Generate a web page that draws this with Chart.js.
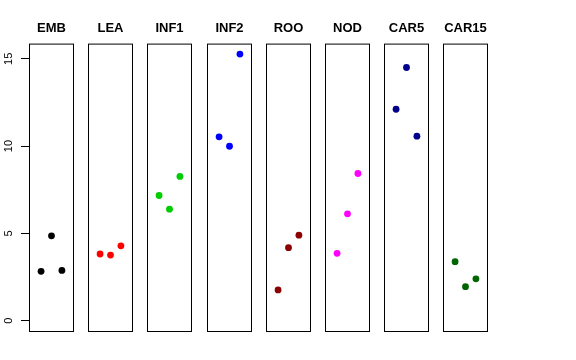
<!DOCTYPE html>
<html>
<head>
<meta charset="utf-8">
<script src="https://cdn.jsdelivr.net/npm/chart.js@4/dist/chart.umd.min.js"></script>
<style>
    html, body { margin: 0; padding: 0; background: #fff; }
    #wrap { position: relative; width: 576px; height: 360px; overflow: hidden; }
    #wrap canvas { position: absolute; top: 0; }
</style>
</head>
<body>
<div id="wrap"></div>
<script>
// Panel names and the three values in each panel (read left to right)
const panelNames = ['EMB', 'LEA', 'INF1', 'INF2', 'ROO', 'NOD', 'CAR5', 'CAR15'];
const xPositions = [1, 2, 3];
const embValues = [2.83, 4.86, 2.88];
const leaValues = [3.82, 3.76, 4.29];
const inf1Values = [7.17, 6.39, 8.26];
const inf2Values = [10.53, 9.99, 15.27];
const rooValues = [1.76, 4.18, 4.90];
const nodValues = [3.86, 6.12, 8.43];
const car5Values = [12.11, 14.50, 10.57];
const car15Values = [3.38, 1.95, 2.40];
const yTicks = [0, 5, 10, 15];

const panelValues = [embValues, leaValues, inf1Values, inf2Values, rooValues, nodValues, car5Values, car15Values];
const panelColors = ['#000000', '#FF0000', '#00CD00', '#0000FF', '#8B0000', '#FF00FF', '#00008B', '#006400'];

// Frame around every panel
const framePlugin = {
    id: 'frame',
    afterDraw(chart) {
        const a = chart.chartArea;
        const ctx = chart.ctx;
        ctx.save();
        ctx.strokeStyle = '#000';
        ctx.lineWidth = 1;
        ctx.strokeRect(a.left + 0.5, a.top + 0.5, a.right - a.left - 1, a.bottom - a.top);
        ctx.restore();
    }
};

// R style y labels, rotated to run along the axis
const yLabelPlugin = {
    id: 'ylabels',
    afterDraw(chart) {
        const scale = chart.scales.y;
        if (!scale.options.display) return;
        const ctx = chart.ctx;
        ctx.save();
        ctx.fillStyle = '#000';
        ctx.font = '11px "Liberation Sans", Arial, sans-serif';
        ctx.textAlign = 'center';
        ctx.textBaseline = 'middle';
        yTicks.forEach(function(v) {
            const y = scale.getPixelForValue(v);
            ctx.save();
            ctx.translate(9, y);
            ctx.rotate(-Math.PI / 2);
            ctx.fillText(String(v), 0, 0);
            ctx.restore();
        });
        ctx.restore();
    }
};

const wrap = document.getElementById('wrap');
const axisWidth = 29;
const panelWidth = 45;
const panelStep = 59.2;
const side = 7;

panelNames.forEach(function(name, i) {
    const first = i === 0;
    const canvas = document.createElement('canvas');
    const left = Math.round(axisWidth + panelStep * i);
    const width = first ? axisWidth + panelWidth + 1 : panelWidth + 2 * side;
    canvas.width = width;
    canvas.height = 360;
    canvas.style.width = width + 'px';
    canvas.style.height = '360px';
    canvas.style.left = (first ? 0 : left - side) + 'px';
    wrap.appendChild(canvas);

    const yScale = {
        display: first,
        min: -0.59,
        max: 15.87,
        afterBuildTicks: function(scale) {
            scale.ticks = yTicks.map(function(v) { return { value: v }; });
        },
        ticks: { display: false },
        border: { display: false },
        grid: {
            drawOnChartArea: false,
            drawTicks: true,
            tickLength: 8,
            color: '#000',
            lineWidth: 1
        }
    };
    if (first) {
        yScale.afterFit = function(scale) {
            scale.width = axisWidth;
        };
    }

    new Chart(canvas, {
        type: 'scatter',
        data: {
            datasets: [{
                data: xPositions.map(function(x, k) { return { x: x, y: panelValues[i][k] }; }),
                backgroundColor: panelColors[i],
                borderWidth: 0,
                pointRadius: 3.4,
                pointHoverRadius: 3.4
            }]
        },
        options: {
            responsive: false,
            animation: false,
            events: [],
            layout: {
                autoPadding: false,
                padding: { left: first ? 0 : side, right: first ? 1 : side, top: 0, bottom: 29 }
            },
            plugins: {
                legend: { display: false },
                tooltip: { enabled: false },
                title: {
                    display: true,
                    fullSize: !first,
                    text: name,
                    color: '#000',
                    font: { family: '"Liberation Sans", Arial, sans-serif', size: 13, weight: 'bold', lineHeight: 1.2 },
                    padding: { top: 21, bottom: 7 }
                }
            },
            scales: {
                x: {
                    display: false,
                    min: -0.16,
                    max: 4.16
                },
                y: yScale
            }
        },
        plugins: [framePlugin, yLabelPlugin]
    });
});
</script>
</body>
</html>
